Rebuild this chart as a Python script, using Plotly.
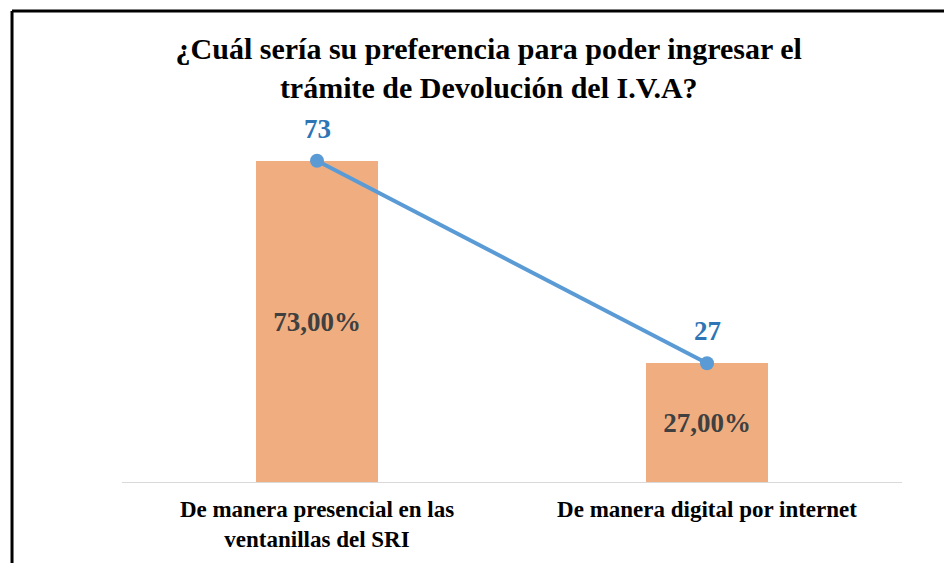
import plotly.graph_objects as go

categories = ["De manera presencial en las<br>ventanillas del SRI", "De manera digital por internet"]
percent_values = [73, 27]
percent_labels = ["73,00%", "27,00%"]
line_values = [73, 27]
line_labels = ["73", "27"]

title_text = "¿Cuál sería su preferencia para poder ingresar el<br>trámite de Devolución del I.V.A?"

SERIF = "Liberation Serif, Times New Roman, serif"

fig = go.Figure()
fig.add_trace(go.Bar(
    x=categories, y=percent_values,
    text=percent_labels, textposition="inside", insidetextanchor="middle",
    textfont=dict(family=SERIF, size=27, color="#404040", weight="bold"),
    marker=dict(color="#F0AE80", line=dict(width=0)),
    width=0.313, hoverinfo="skip", showlegend=False,
))
fig.add_trace(go.Scatter(
    x=categories, y=line_values, mode="lines+markers",
    line=dict(color="#5B9BD5", width=4),
    marker=dict(color="#5B9BD5", size=14),
    showlegend=False, hoverinfo="skip",
))
for c, v, t in zip(categories, line_values, line_labels):
    fig.add_annotation(x=c, y=v, text=t, showarrow=False, yshift=32,
                       font=dict(family=SERIF, size=27, color="#2E75B6", weight="bold"))

# outer frame (left and top border)
fig.add_shape(type="line", xref="paper", yref="paper", x0=-0.141, x1=1.1, y0=1.338, y1=1.338,
              line=dict(color="black", width=3))
fig.add_shape(type="line", xref="paper", yref="paper", x0=-0.141, x1=-0.141, y0=1.338, y1=-0.3,
              line=dict(color="black", width=3))

fig.update_layout(
    width=952, height=563,
    margin=dict(l=114, r=58, t=122, b=89),
    paper_bgcolor="white", plot_bgcolor="white",
    title=dict(text=title_text, x=0.505, xanchor="center", xref="container",
               y=1 - 51 / 563, yanchor="middle",
               font=dict(family=SERIF, size=30, color="black", weight="bold")),
    xaxis=dict(showline=True, linecolor="#D9D9D9", linewidth=1, showgrid=False,
               ticks="", ticklabelstandoff=6,
               tickfont=dict(family=SERIF, size=23, color="black", weight="bold")),
    yaxis=dict(range=[0, 80], visible=False, showgrid=False),
    bargap=0,
)

fig.write_html("out.html")
